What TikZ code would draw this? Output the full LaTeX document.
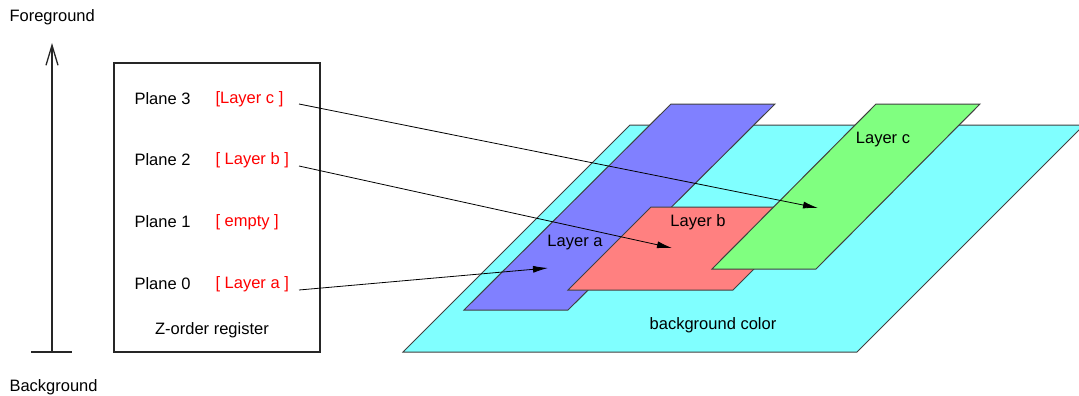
\documentclass[tikz,border=0pt]{standalone}
\usepackage{fontspec}
\setmainfont{Liberation Sans}
\usetikzlibrary{arrows.meta}
\definecolor{planecyan}{RGB}{128,255,255}
\definecolor{planeblue}{RGB}{128,128,255}
\definecolor{planered}{RGB}{255,128,128}
\definecolor{planegreen}{RGB}{128,255,128}

\begin{document}
\begin{tikzpicture}[x=1pt,y=-1pt,>={Latex[length=15pt,width=7pt]},
    font=\fontsize{16.5}{20}\selectfont,
    plane/.style={draw=black!75, line width=1pt},
    regtext/.style={anchor=west, text=red}]
  \useasboundingbox (0,0) rectangle (1079,396);

  % Depth axis
  \node[anchor=west] (fg) at (6,17) {Foreground};
  \node[anchor=west] (bg) at (6,387) {Background};
  \draw[line width=1.3pt, black!85] (31,352) -- (72,352);
  \draw[line width=1.3pt, black!85, -{Straight Barb[length=20pt,width=12pt]}] (52,352) -- (52,43);

  % Z-order register
  \draw[line width=1.3pt, black!85] (114,63) rectangle (320,352);
  \node[anchor=west] (p3) at (131,99) {Plane 3};
  \node[anchor=west] (p2) at (131,160) {Plane 2};
  \node[anchor=west] (p1) at (131,222) {Plane 1};
  \node[anchor=west] (p0) at (131,284) {Plane 0};
  \node[regtext] (r3) at (212,99) {[Layer c ]};
  \node[regtext] (r2) at (212,160) {[ Layer b ]};
  \node[regtext] (r1) at (212,222) {[ empty ]};
  \node[regtext] (r0) at (212,284) {[ Layer a ]};
  \node (reg) at (212,330) {Z-order register};

  % Layer planes, back to front
  \filldraw[plane, fill=planecyan] (403,352) -- (630,125) -- (1084,125) -- (857,352) -- cycle;
  \filldraw[plane, fill=planeblue] (464,310) -- (671,104) -- (775,104) -- (568,310) -- cycle;
  \filldraw[plane, fill=planered] (568,290) -- (651,207) -- (816,207) -- (733,290) -- cycle;
  \filldraw[plane, fill=planegreen] (712,269) -- (876,104) -- (980,104) -- (816,269) -- cycle;
  \node (la) at (575,243) {Layer a};
  \node (lb) at (698,222) {Layer b};
  \node (lc) at (883,140) {Layer c};
  \node (bgc) at (713,325) {background color};

  % Register entries point at their layers
  \coordinate (s3) at (299,104);
  \coordinate (s2) at (299,166);
  \coordinate (s0) at (299,290);
  \coordinate (tc) at (818,208);
  \coordinate (tb) at (672,248);
  \coordinate (ta) at (548,268);
  \draw[->, line width=0.8pt] (s3) -- (tc);
  \draw[->, line width=0.8pt] (s2) -- (tb);
  \draw[->, line width=0.8pt] (s0) -- (ta);
\end{tikzpicture}
\end{document}
